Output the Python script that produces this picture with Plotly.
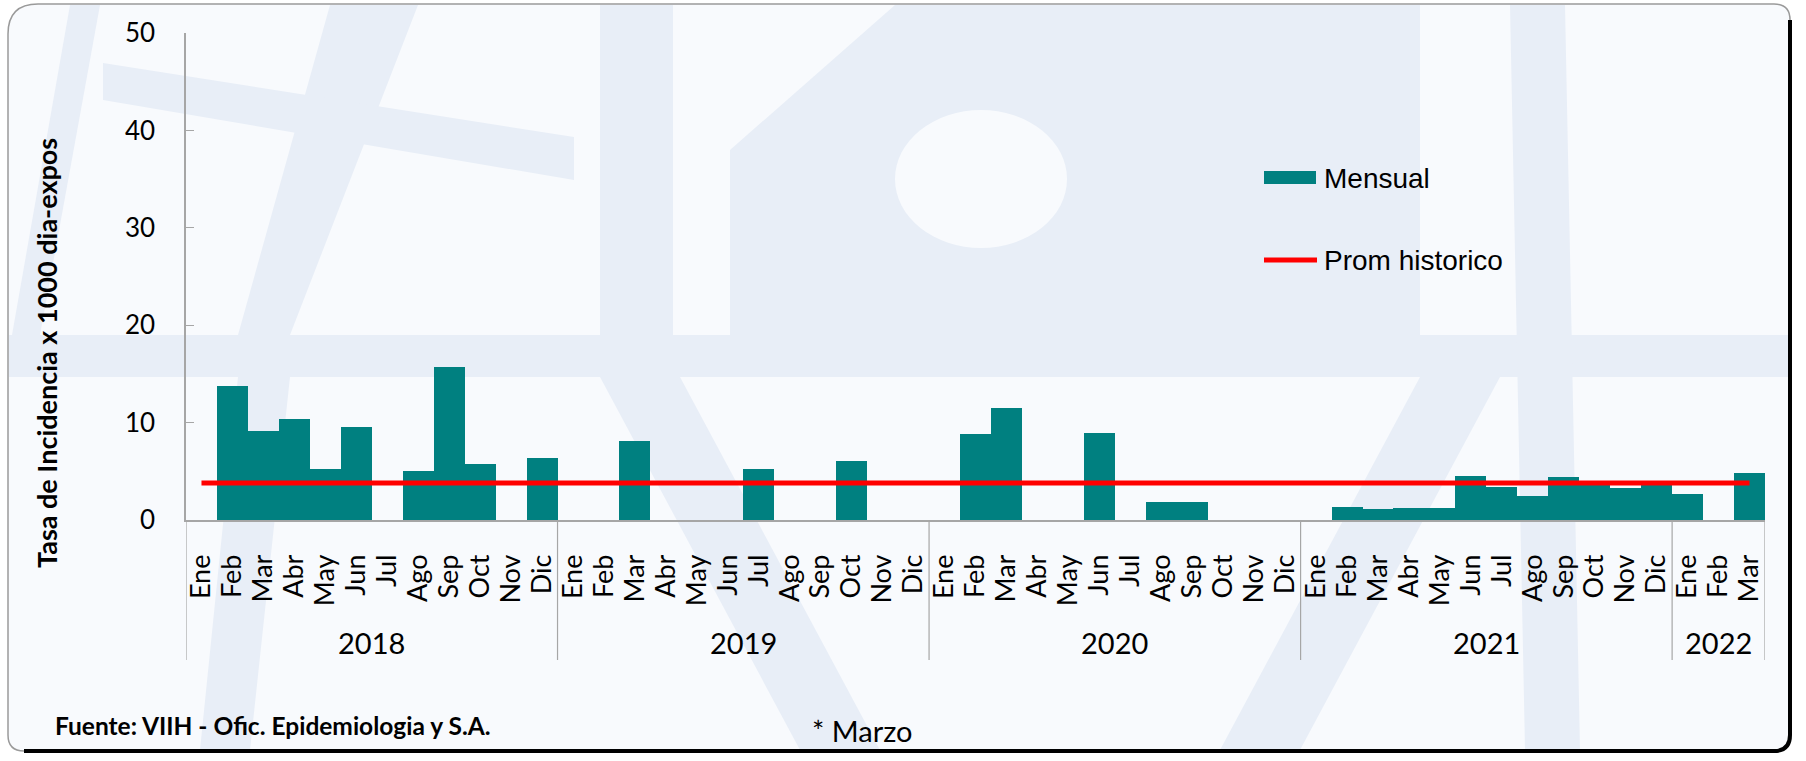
import plotly.graph_objects as go

# ---------------- data ----------------
month_names = ["Ene", "Feb", "Mar", "Abr", "May", "Jun", "Jul", "Ago", "Sep", "Oct", "Nov", "Dic"]
years = ["2018", "2019", "2020", "2021", "2022"]
months_per_year = [12, 12, 12, 12, 3]

values_2018 = [0, 13.8, 9.1, 10.4, 5.2, 9.5, 0, 5.0, 15.7, 5.7, 0, 6.4]
values_2019 = [0, 0, 8.1, 0, 0, 0, 5.2, 0, 0, 6.1, 0, 0]
values_2020 = [0, 8.8, 11.5, 0, 0, 8.9, 0, 1.8, 1.8, 0, 0, 0]
values_2021 = [0, 1.3, 1.15, 1.25, 1.25, 4.55, 3.35, 2.45, 4.4, 3.9, 3.3, 3.7]
values_2022 = [2.7, 0, 4.8]
prom_historico = 3.8

series_name_bar = "Mensual"
series_name_line = "Prom historico"
y_title = "Tasa de Incidencia x 1000 dia-expos"
footnote = "Fuente: VIIH - Ofic. Epidemiologia y S.A."
note = "* Marzo"

# ---------------- build ----------------
values = values_2018 + values_2019 + values_2020 + values_2021 + values_2022
tick_text = []
cat_year = []
for y, n in zip(years, months_per_year):
    tick_text += month_names[:n]
    cat_year += [y] * n
idx = list(range(len(values)))

TEAL = "#008080"
RED = "#ff0000"
GRAY = "#a6a6a6"

W, H = 1806, 761
ML, MR, MT, MB = 186, 41, 33, 241
PW = W - ML - MR
PH = H - MT - MB


def px(x):
    return (x - ML) / PW


def py(y):
    return (H - MB - y) / PH


fig = go.Figure()
fig.add_trace(go.Bar(x=idx, y=values, width=1, marker=dict(color=TEAL, line=dict(width=0)),
                     name=series_name_bar, showlegend=False))
fig.add_trace(go.Scatter(x=[idx[0], idx[-1]], y=[prom_historico, prom_historico], mode="lines",
                         line=dict(color=RED, width=5), name=series_name_line, showlegend=False))

shapes = []
# frame background
BG = "#f8fafd"
WM = "#e8eef7"
fx0, fy0, fx1, fy1 = 8, 4, 1790, 751
r1, r2 = 30, 16
frame_path = (f"M {px(fx0)},{py(fy0 + r1)} Q {px(fx0)},{py(fy0)} {px(fx0 + r1)},{py(fy0)} "
              f"L {px(fx1 - r2)},{py(fy0)} Q {px(fx1)},{py(fy0)} {px(fx1)},{py(fy0 + r2)} "
              f"L {px(fx1)},{py(fy1 - r2)} Q {px(fx1)},{py(fy1)} {px(fx1 - r2)},{py(fy1)} "
              f"L {px(fx0 + r2)},{py(fy1)} Q {px(fx0)},{py(fy1)} {px(fx0)},{py(fy1 - r2)} Z")
shapes.append(dict(type="path", xref="paper", yref="paper", path=frame_path, fillcolor=BG,
                   line=dict(color="#9a9a9a", width=1.5), layer="below"))


def poly(points, color=WM):
    p = "M " + " L ".join(f"{px(a)},{py(b)}" for a, b in points) + " Z"
    return dict(type="path", xref="paper", yref="paper", path=p, fillcolor=color,
                line=dict(width=0), layer="below")


# watermark approximation (faint globe logo)
shapes.append(poly([(895, 5), (1420, 5), (1420, 335), (730, 335), (730, 150)]))
shapes.append(dict(type="circle", xref="paper", yref="paper", x0=px(895), x1=px(1067), y0=py(110), y1=py(248),
                   fillcolor=BG, line=dict(width=0), layer="below"))
shapes.append(poly([(9, 335), (1789, 335), (1789, 377), (9, 377)]))
shapes.append(poly([(1510, 5), (1565, 5), (1580, 750), (1525, 750)]))
shapes.append(poly([(330, 5), (418, 5), (290, 335), (238, 335)]))
shapes.append(poly([(70, 5), (100, 5), (40, 335), (12, 335)]))
shapes.append(poly([(103, 63), (574, 137), (574, 180), (103, 100)]))
shapes.append(poly([(600, 5), (673, 5), (673, 335), (600, 335)]))
shapes.append(poly([(238, 377), (290, 377), (250, 750), (200, 750)]))
shapes.append(poly([(600, 377), (680, 377), (880, 750), (800, 750)]))
shapes.append(poly([(1420, 377), (1500, 377), (1300, 750), (1220, 750)]))

# frame shadow (right & bottom)
shadow_path = (f"M {px(fx1)},{py(fy0 + r2)} L {px(fx1)},{py(fy1 - r2)} "
               f"Q {px(fx1)},{py(fy1)} {px(fx1 - r2)},{py(fy1)} L {px(fx0 + r2)},{py(fy1)}")
shapes.append(dict(type="path", xref="paper", yref="paper", path=shadow_path,
                   line=dict(color="#000000", width=4)))

# year dividers (from data)
bounds = [-0.5]
for i in range(1, len(cat_year)):
    if cat_year[i] != cat_year[i - 1]:
        bounds.append(i - 0.5)
bounds.append(len(cat_year) - 0.5)
for b in bounds:
    shapes.append(dict(type="line", xref="x", yref="paper", x0=b, x1=b, y0=0, y1=py(660),
                       line=dict(color=GRAY, width=1.2)))

# legend (custom)
shapes.append(dict(type="rect", xref="paper", yref="paper", x0=px(1264), x1=px(1316), y0=py(184), y1=py(171),
                   fillcolor=TEAL, line=dict(width=0)))
shapes.append(dict(type="line", xref="paper", yref="paper", x0=px(1264), x1=px(1317), y0=py(260), y1=py(260),
                   line=dict(color=RED, width=5)))

annotations = []
annotations.append(dict(text=series_name_bar, xref="paper", yref="paper", x=px(1322), y=py(178),
                        xanchor="left", yanchor="middle", showarrow=False,
                        font=dict(family="Liberation Sans, Arial", size=28, color="#000")))
annotations.append(dict(text=series_name_line, xref="paper", yref="paper", x=px(1322), y=py(260),
                        xanchor="left", yanchor="middle", showarrow=False,
                        font=dict(family="Liberation Sans, Arial", size=28, color="#000")))

# year labels
start = 0
for y, n in zip(years, months_per_year):
    center = (idx[start] + idx[start + n - 1]) / 2
    annotations.append(dict(text=y, xref="x", yref="paper", x=center, y=py(642), xanchor="center",
                            yanchor="middle", showarrow=False, font=dict(family="Lato", size=29, color="#000")))
    start += n

annotations.append(dict(text=f"<b>{y_title}</b>", xref="paper", yref="paper", x=px(46), y=py(353),
                        textangle=-90, xanchor="center", yanchor="middle", showarrow=False,
                        font=dict(family="Lato", size=27, color="#000")))
annotations.append(dict(text=f"<b>{footnote}</b>", xref="paper", yref="paper", x=px(53), y=py(725),
                        xanchor="left", yanchor="middle", showarrow=False,
                        font=dict(family="Lato", size=24.5, color="#000")))
annotations.append(dict(text=note, xref="paper", yref="paper", x=px(810), y=py(730),
                        xanchor="left", yanchor="middle", showarrow=False,
                        font=dict(family="Lato", size=29, color="#000")))

fig.update_layout(
    width=W, height=H,
    margin=dict(l=ML, r=MR, t=MT, b=MB, pad=0),
    paper_bgcolor="#ffffff",
    plot_bgcolor="rgba(0,0,0,0)",
    bargap=0,
    showlegend=False,
    shapes=shapes,
    annotations=annotations,
    xaxis=dict(range=[-0.5, len(values) - 0.5], tickmode="array", tickvals=idx, ticktext=tick_text,
               tickangle=-90, ticks="", showline=True, linecolor=GRAY, linewidth=1.5, showgrid=False,
               zeroline=False, tickfont=dict(family="Lato", size=27, color="#000"), ticklabelstandoff=22),
    yaxis=dict(range=[0, 50], dtick=10, ticks="inside", ticklen=8, tickcolor=GRAY, showline=True,
               linecolor=GRAY, linewidth=1.5, showgrid=False, zeroline=False,
               tickfont=dict(family="Lato", size=26, color="#000"), ticklabelstandoff=24),
)

fig.write_html("out.html", config={"displayModeBar": False},
               post_script="document.body.style.margin='0';")
